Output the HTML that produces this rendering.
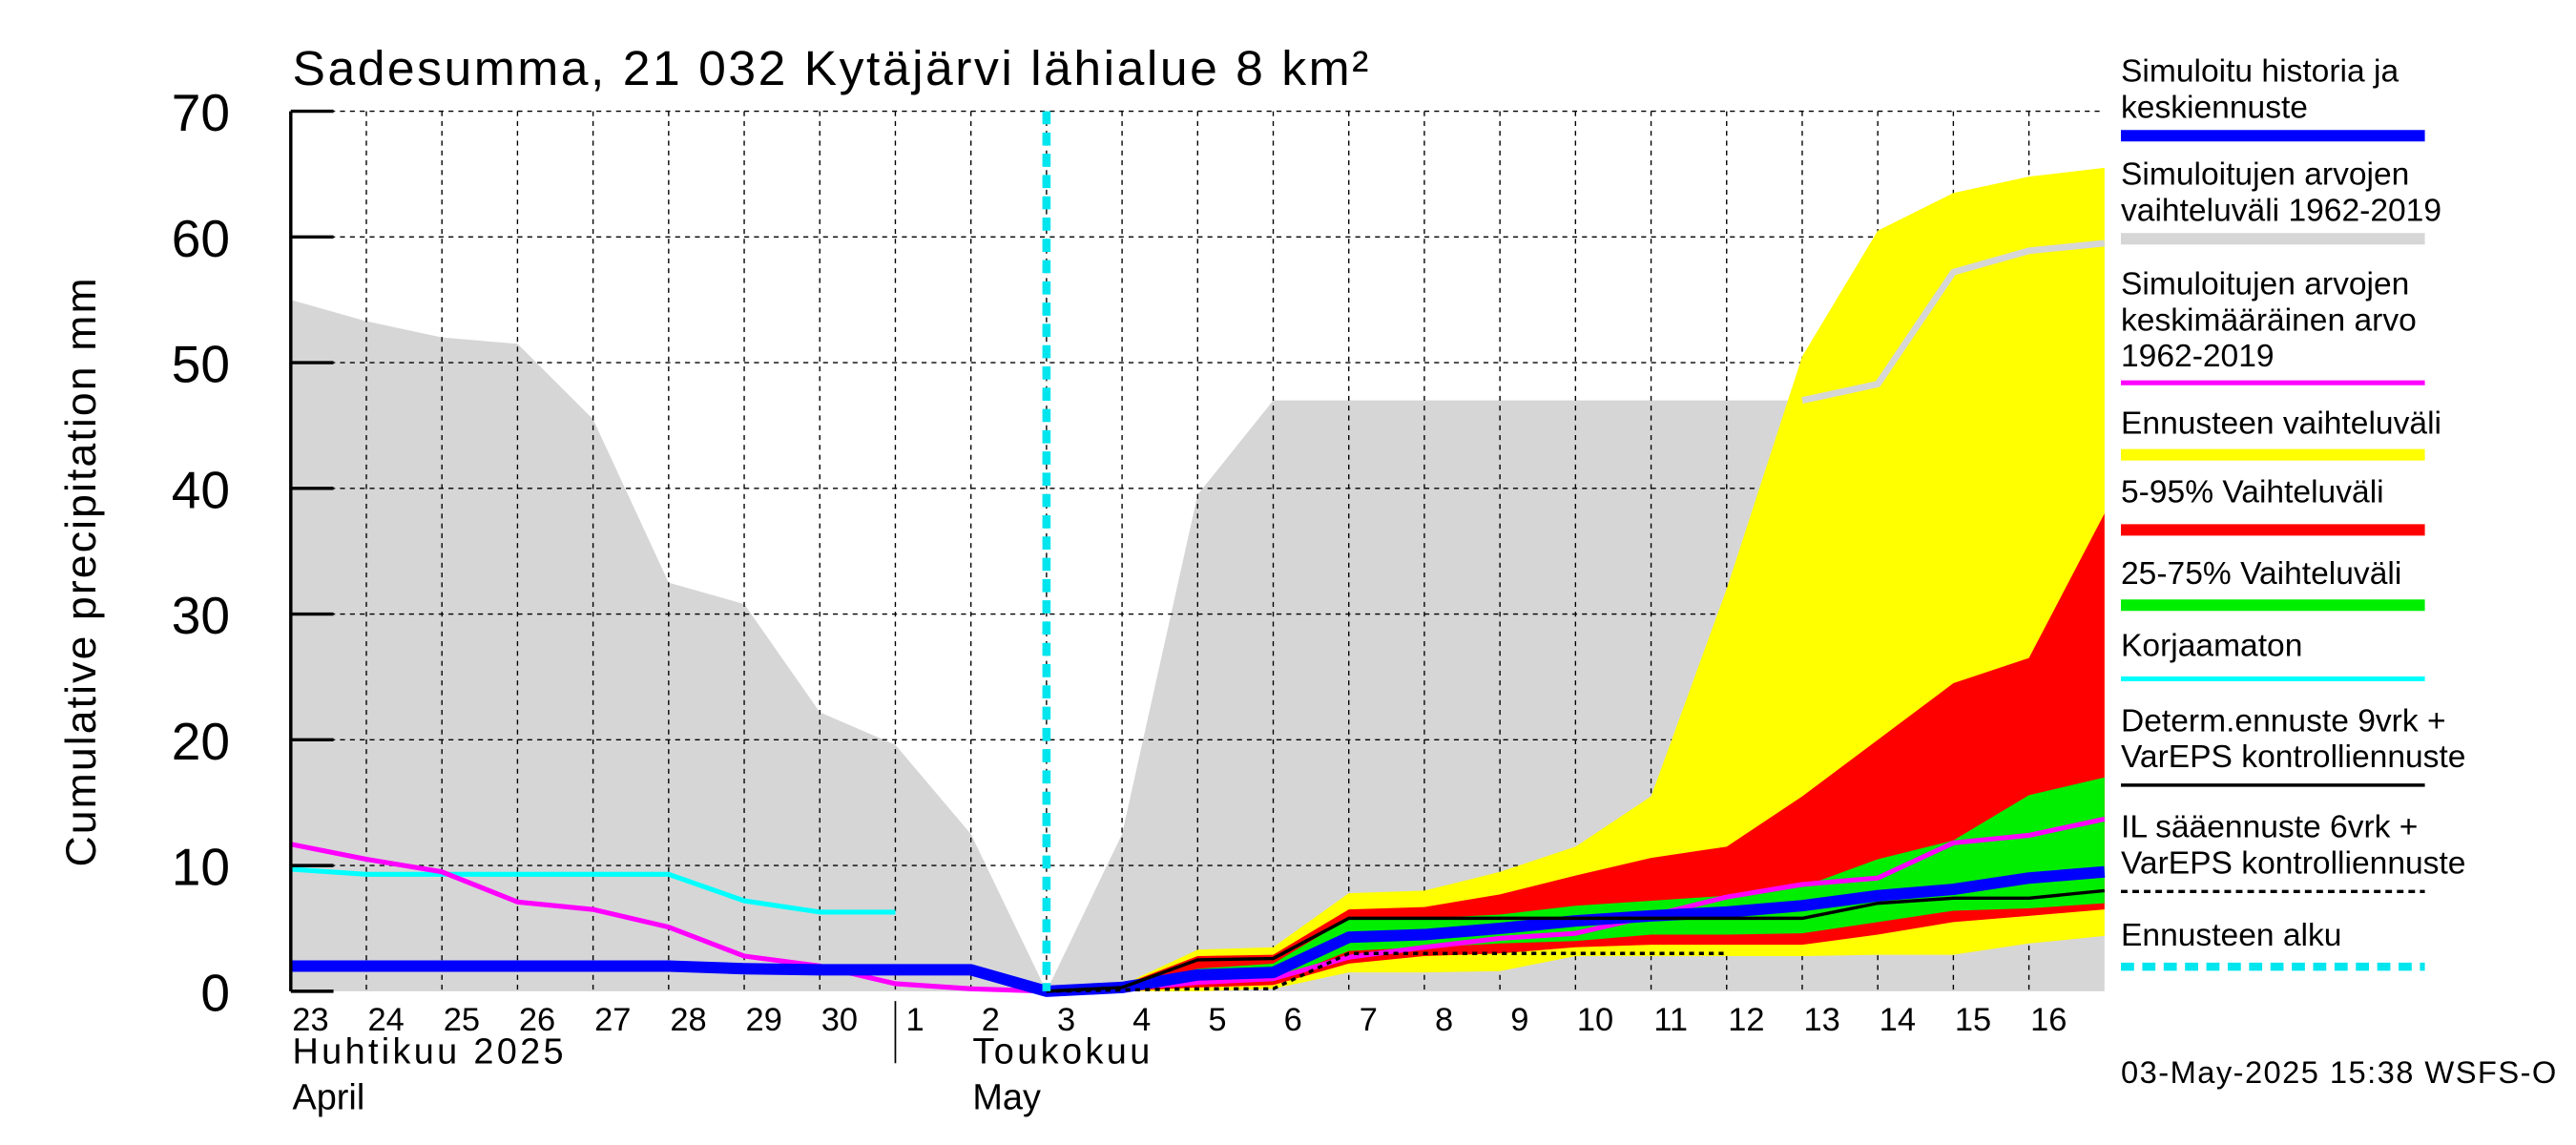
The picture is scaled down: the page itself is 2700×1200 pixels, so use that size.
<!DOCTYPE html>
<html><head><meta charset="utf-8"><style>
html,body{margin:0;padding:0;background:#fff;}
svg{display:block;}
text{font-family:"Liberation Sans",sans-serif;fill:#000;}
</style></head><body>
<svg id="chart" width="2700" height="1200" viewBox="0 0 1568 700" preserveAspectRatio="none" xmlns="http://www.w3.org/2000/svg">
<g id="plot"></g>
<g id="legend"></g>
</svg>
<script>
// ---- data (day index 0 = 23 April; forecast starts at index 10 = 3 May) ----
const dayLabels = ["23","24","25","26","27","28","29","30","1","2","3","4","5","6","7","8","9","10","11","12","13","14","15","16"];
const yTicks = [0,10,20,30,40,50,60,70];
const grayUpper = [55,53.3,52,51.5,45.5,32.5,30.8,22.2,19.6,12.5,0,12.5,39.5,47,47,47,47,47,47,47,47,48.3,57.2,58.9,59.5];
const grayUpperLine = [47,48.3,57.2,58.9,59.5]; // indices 20..24
const yellowUpper = [0,0.5,3.3,3.5,7.8,8,9.5,11.5,15.5,32,50.5,60.5,63.5,64.8,65.5]; // idx 10..24
const yellowLower = [0,0,0,0.2,1.5,1.5,1.6,2.8,2.8,2.8,2.8,2.9,2.9,3.8,4.4];
const redUpper = [0,0.5,2.8,2.9,6.5,6.7,7.7,9.2,10.6,11.5,15.5,20,24.5,26.5,38];
const redLower = [0,0,0.3,0.5,2.2,2.8,3,3.5,3.7,3.7,3.7,4.5,5.5,6,6.5];
const greenUpper = [0,0.4,1.8,2.2,5.8,5.8,6.1,6.8,7.2,7.6,8.3,10.5,12,15.6,17];
const greenLower = [0,0.1,0.6,0.8,3.2,3.5,3.8,4,4.5,4.5,4.6,5.5,6.4,6.6,7];
const blueLine = [2,2,2,2,2,2,1.8,1.7,1.7,1.7,0,0.3,1.3,1.5,4.3,4.5,5,5.6,6,6.3,6.8,7.6,8.1,9,9.5];
const blackLine = [0,0.3,2.5,2.6,5.8,5.8,5.8,5.8,5.8,5.8,5.8,7,7.4,7.4,8]; // idx 10..24
const dottedLine = [0,0.1,0.2,0.2,3,3,3,3,3,3]; // idx 10..19
const magentaLine = [11.7,10.5,9.5,7.1,6.5,5.1,2.8,2,0.6,0.2,0,0.2,0.7,1,2.7,3.5,4.2,4.6,6,7.5,8.5,9,11.8,12.4,13.7];
const cyanLine = [9.7,9.3,9.3,9.3,9.3,9.3,7.2,6.3,6.3]; // idx 0..8

const NS="http://www.w3.org/2000/svg";
const X0=177, DX=46, Y0=606, YS=538/70;
const xs=i=>X0+DX*i, ys=v=>Y0-v*YS;
const plot=document.getElementById('plot');
function mk(tag,attrs,parent){const e=document.createElementNS(NS,tag);for(const k in attrs)e.setAttribute(k,attrs[k]);(parent||plot).appendChild(e);return e;}
function pts(arr,off){return arr.map((v,i)=>xs(i+off).toFixed(1)+","+ys(v).toFixed(1)).join(" ");}
function band(up,lo,off,color,name){
  const p=pts(up,off)+" "+lo.map((v,i)=>[i,v]).reverse().map(([i,v])=>xs(i+off).toFixed(1)+","+ys(v).toFixed(1)).join(" ");
  const e=mk('polygon',{points:p,fill:color});
  
  
}
function line(arr,off,color,w,name,dash){
  const e=mk('polyline',{points:pts(arr,off),fill:'none',stroke:color,'stroke-width':w,'stroke-linejoin':'round'});
  if(dash)e.setAttribute('stroke-dasharray',dash);
  
  
}
band(grayUpper,grayUpper.map(()=>0),0,'#d6d6d6','historical-range-band');
for(let i=1;i<dayLabels.length;i++){const g=mk('line',{x1:xs(i),x2:xs(i),y1:ys(70),y2:Y0,stroke:'#000','stroke-width':0.8,'stroke-dasharray':'3,3'});
}
yTicks.slice(1).forEach(v=>{const g=mk('line',{x1:X0,x2:1281,y1:ys(v),y2:ys(v),stroke:'#000','stroke-width':0.8,'stroke-dasharray':'3,3'});
});
band(yellowUpper,yellowLower,10,'#ffff00','forecast-range-band');
band(redUpper,redLower,10,'#ff0000','band-5-95');
band(greenUpper,greenLower,10,'#00ee00','band-25-75');
line(grayUpperLine,20,'#d6d6d6',4,'historical-max-line');
line(cyanLine,0,'#00ffff',3,'uncorrected-line');
line(magentaLine,0,'#ff00ff',3,'historical-mean-line');
line(blueLine,0,'#0000ff',7,'simulated-history-line');
line(blackLine,10,'#000',2,'determ-forecast-line');
line(dottedLine,10,'#000',2,'il-forecast-line','3,3');
{const e=mk('line',{x1:637,x2:637,y1:ys(70),y2:Y0,stroke:'#00e5ee','stroke-width':5,'stroke-dasharray':'8,5'});
}
{const a=mk('line',{x1:X0,x2:X0,y1:ys(70),y2:Y0,stroke:'#000','stroke-width':2});}
yTicks.forEach(v=>{
  const t=mk('line',{x1:X0,x2:X0+26,y1:ys(v),y2:ys(v),stroke:'#000','stroke-width':2});
  
  const l=mk('text',{x:140,y:ys(v)+12,'font-size':32,'text-anchor':'end'});l.textContent=v;
  
});
dayLabels.forEach((d,i)=>{
  const l=mk('text',{x:xs(i)+12,y:630,'font-size':20,'text-anchor':'middle'});l.textContent=d;
  
});
{const s=mk('line',{x1:545,x2:545,y1:612,y2:650,stroke:'#000','stroke-width':1});}
function txt(x,y,s,str,name,extra){const t=mk('text',Object.assign({x:x,y:y,'font-size':s},extra||{}));t.textContent=str;return t;}
txt(178,650,22,"Huhtikuu  2025","month-label-fi",{textLength:165});
txt(178,678,22,"April","month-label-en");
txt(592,650,22,"Toukokuu","month-label-fi-may",{textLength:108});
txt(592,678,22,"May","month-label-en-may");
txt(178,52,30,"Sadesumma, 21 032 Kytäjärvi lähialue 8 km²","chart-title",{textLength:655});
txt(0,0,26,"Cumulative precipitation   mm","y-axis-title",{transform:"translate(58,350) rotate(-90)","text-anchor":"middle",textLength:360});
txt(1291,662,19,"03-May-2025 15:38 WSFS-O","timestamp",{textLength:265});
const lg=document.getElementById('legend');
const items=[
 {t:["Simuloitu historia ja","keskiennuste"],y:50,ly:83,c:'#0000ff',w:7},
 {t:["Simuloitujen arvojen","vaihteluväli 1962-2019"],y:113,ly:146,c:'#d6d6d6',w:7},
 {t:["Simuloitujen arvojen","keskimääräinen arvo","   1962-2019"],y:180,ly:234,c:'#ff00ff',w:3},
 {t:["Ennusteen vaihteluväli"],y:265,ly:278,c:'#ffff00',w:7},
 {t:["5-95% Vaihteluväli"],y:307,ly:324,c:'#ff0000',w:7},
 {t:["25-75% Vaihteluväli"],y:357,ly:370,c:'#00ee00',w:7},
 {t:["Korjaamaton"],y:401,ly:415,c:'#00ffff',w:3},
 {t:["Determ.ennuste 9vrk +","VarEPS kontrolliennuste"],y:447,ly:480,c:'#000',w:2},
 {t:["IL sääennuste 6vrk  +","  VarEPS kontrolliennuste"],y:512,ly:545,c:'#000',w:2,d:'4,3'},
 {t:["Ennusteen alku"],y:578,ly:591,c:'#00e5ee',w:5,d:'8,5'}
];
items.forEach((it,k)=>{
  it.t.forEach((s,j)=>{const t=mk('text',{x:1291,y:it.y+j*22,'font-size':19.5,'xml:space':'preserve'},lg);t.textContent=s;
   });
  const l=mk('line',{x1:1291,x2:1476,y1:it.ly,y2:it.ly,stroke:it.c,'stroke-width':it.w},lg);
  if(it.d)l.setAttribute('stroke-dasharray',it.d);
  
});
</script>
</body></html>
